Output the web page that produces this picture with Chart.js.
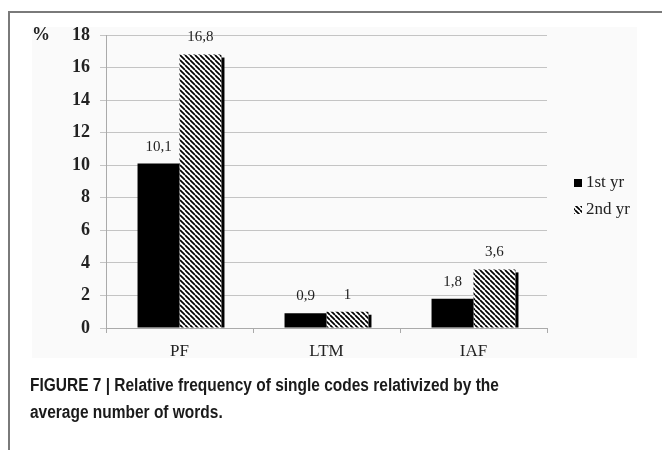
<!DOCTYPE html>
<html>
<head>
<meta charset="utf-8">
<script src="https://cdn.jsdelivr.net/npm/chart.js@4"></script>
<style>
  body { margin: 0; background: #fff; }
  #wrap { position: relative; width: 662px; height: 450px; overflow: hidden; }
  #frame { position: absolute; left: 8px; top: 11px; width: 660px; height: 450px;
           border-left: 2px solid #7a7a7a; border-top: 2px solid #7a7a7a; }
  #panel { position: absolute; left: 32px; top: 27px; width: 605px; height: 331px; background: #fafafa; }
  #chart { position: absolute; left: 0; top: 0; }
  #caption { position: absolute; left: 30px; top: 372px; width: 700px;
             font-family: "Liberation Sans", Arial, sans-serif;
             font-weight: bold; font-size: 18px; line-height: 27px; color: #1a1a1a;
             transform: scaleX(0.86); transform-origin: left top; }
</style>
</head>
<body>
<div id="wrap">
  <div id="frame"></div>
  <div id="panel"></div>
  <canvas id="chart" width="662" height="450"></canvas>
  <div id="caption">FIGURE 7 | Relative frequency of single codes relativized by the<br>average number of words.</div>
</div>
<script>
const categories = ['PF', 'LTM', 'IAF'];
const firstYear = [10.1, 0.9, 1.8];
const secondYear = [16.8, 1, 3.6];
const seriesNames = ['1st yr', '2nd yr'];
const yTicks = [0, 2, 4, 6, 8, 10, 12, 14, 16, 18];

const serif = '"Liberation Serif", "DejaVu Serif", serif';

function hatch(size) {
  const c = document.createElement('canvas');
  c.width = size; c.height = size;
  const g = c.getContext('2d');
  g.fillStyle = '#fff';
  g.fillRect(0, 0, size, size);
  g.strokeStyle = '#000';
  g.lineWidth = 1.7;
  g.beginPath();
  for (const k of [-size, 0, size]) {
    g.moveTo(k, 0);
    g.lineTo(k + size, size);
  }
  g.stroke();
  return g.createPattern(c, 'repeat');
}
const hatchFill = hatch(5);

const fmt = v => String(v).replace('.', ',');

// labels, shadow on hatched bars, legend and the % sign
const extras = {
  id: 'extras',
  afterDatasetsDraw(chart) {
    const ctx = chart.ctx;
    ctx.save();
    // right-side shadow of the hatched bars
    chart.getDatasetMeta(1).data.forEach(bar => {
      const right = bar.x + bar.width / 2;
      ctx.fillStyle = '#000';
      ctx.fillRect(right, bar.y + 3, 3, bar.base - bar.y - 3);
    });
    ctx.font = '15px ' + serif;
    ctx.fillStyle = '#222';
    ctx.textAlign = 'center';
    ctx.textBaseline = 'middle';
    chart.data.datasets.forEach((ds, i) => {
      chart.getDatasetMeta(i).data.forEach((bar, j) => {
        ctx.fillText(fmt(ds.data[j]), bar.x, bar.y - 17);
      });
    });
    // % sign
    ctx.font = 'bold 18px ' + serif;
    ctx.textAlign = 'center';
    ctx.fillText('%', 41, chart.scales.y.getPixelForValue(18));
    // legend
    ctx.font = '17px ' + serif;
    ctx.textAlign = 'left';
    const lx = 574, rows = [183, 210];
    ctx.fillStyle = '#000';
    ctx.fillRect(lx, rows[0] - 4, 8, 8);
    ctx.fillStyle = hatchFill;
    ctx.fillRect(lx, rows[1] - 4, 8, 8);
    ctx.fillStyle = '#222';
    seriesNames.forEach((n, i) => ctx.fillText(n, lx + 12, rows[i]));
    ctx.restore();
  }
};

new Chart(document.getElementById('chart'), {
  type: 'bar',
  data: {
    labels: categories,
    datasets: [
      { label: seriesNames[0], data: firstYear, backgroundColor: '#000' },
      { label: seriesNames[1], data: secondYear, backgroundColor: hatchFill }
    ]
  },
  options: {
    responsive: false,
    animation: false,
    events: [],
    categoryPercentage: 0.571,
    barPercentage: 1,
    layout: { padding: { top: 35, right: 115, left: 0, bottom: 0 } },
    plugins: { legend: { display: false }, tooltip: { enabled: false } },
    scales: {
      x: {
        afterFit: s => { s.height = 122; },
        grid: { display: true, drawOnChartArea: false, tickLength: 5, color: '#aaa', offset: true },
        border: { color: '#aaa' },
        ticks: { font: { family: serif, size: 17 }, color: '#222', padding: 8 }
      },
      y: {
        min: 0,
        max: 18,
        afterFit: s => { s.width = 106; },
        afterBuildTicks: s => { s.ticks = yTicks.map(v => ({ value: v })); },
        grid: { color: '#c4c4c4', tickLength: 6 },
        border: { color: '#aaa' },
        ticks: { font: { family: serif, size: 18, weight: 'bold' }, color: '#222', padding: 10 }
      }
    }
  },
  plugins: [extras]
});
</script>
</body>
</html>
